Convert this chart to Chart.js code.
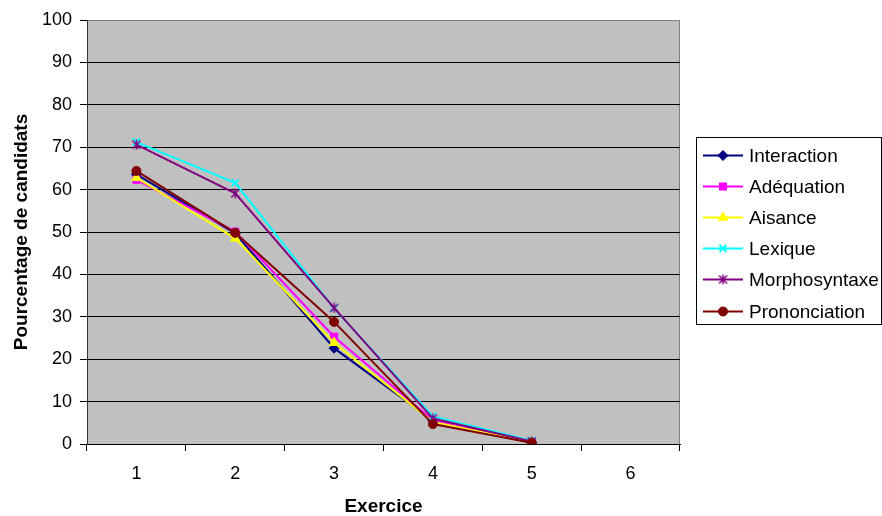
<!DOCTYPE html>
<html><head><meta charset="utf-8">
<script src="https://cdn.jsdelivr.net/npm/chart.js@4/dist/chart.umd.min.js"></script>
<style>html,body{margin:0;padding:0;background:#fff;overflow:hidden}</style>
</head><body>
<canvas id="c" width="882" height="516" style="width:882px;height:516px;display:block"></canvas>
<script>
const categories = ['1', '2', '3', '4', '5', '6'];
const seriesNames = ['Interaction', 'Adéquation', 'Aisance', 'Lexique', 'Morphosyntaxe', 'Prononciation'];
const interaction   = [63.6, 49.7, 22.6, 5.5, 0.3];
const adequation    = [62.3, 50.1, 25.3, 5.6, 0.5];
const aisance       = [62.8, 48.5, 23.9, 5.2, 0.4];
const lexique       = [71.2, 61.6, 32.0, 6.5, 0.8];
const morphosyntaxe = [70.6, 59.1, 32.1, 6.0, 0.6];
const prononciation = [64.4, 49.8, 28.8, 4.7, 0.3];
const yTicks = [0, 10, 20, 30, 40, 50, 60, 70, 80, 90, 100];
const xTitle = 'Exercice';
const yTitle = 'Pourcentage de candidats';

const FONT = '"Liberation Sans", Arial, Helvetica, sans-serif';

// Excel-style asterisk marker
function asterisk(color) {
  const c = document.createElement('canvas');
  c.width = 11; c.height = 11;
  const g = c.getContext('2d');
  g.strokeStyle = color; g.lineWidth = 1.5;
  g.beginPath();
  g.moveTo(1.5, 1.5); g.lineTo(9.5, 9.5);
  g.moveTo(9.5, 1.5); g.lineTo(1.5, 9.5);
  g.moveTo(5.5, 0.5); g.lineTo(5.5, 10.5);
  g.stroke();
  return c;
}

const values = [interaction, adequation, aisance, lexique, morphosyntaxe, prononciation];
const colors = ['#000080', '#FF00FF', '#FFFF00', '#00FFFF', '#800080', '#800000'];
const styles = ['rectRot', 'rect', 'triangle', 'crossRot', asterisk('#800080'), 'circle'];
const radii  = [5, 5, 5.5, 5, 5.5, 4.5];

const datasets = seriesNames.map((name, i) => ({
  label: name,
  data: values[i],
  borderColor: colors[i],
  backgroundColor: colors[i],
  pointStyle: styles[i],
  pointRadius: radii[i],
  pointBorderWidth: (i === 3) ? 2 : 1,
  borderWidth: 2,
  tension: 0,
  order: seriesNames.length - i
}));

const bgPlugin = {
  id: 'plotBg',
  beforeDraw(chart) {
    const {ctx, chartArea: a} = chart;
    ctx.save();
    ctx.fillStyle = '#C0C0C0';
    ctx.fillRect(a.left, a.top, a.right - a.left, a.bottom - a.top);
    ctx.strokeStyle = '#808080';
    ctx.lineWidth = 1;
    ctx.strokeRect(a.left + 0.5, a.top + 0.5, a.right - a.left - 1, a.bottom - a.top);
    ctx.restore();
  }
};

const legendPlugin = {
  id: 'excelLegend',
  afterDraw(chart) {
    const ctx = chart.ctx;
    const lx = 696, ly = 137, lw = 186, lh = 188;
    ctx.save();
    ctx.fillStyle = '#fff';
    ctx.fillRect(lx, ly, lw, lh);
    ctx.strokeStyle = '#000';
    ctx.lineWidth = 1;
    ctx.strokeRect(lx + 0.5, ly + 0.5, lw - 1, lh - 1);
    ctx.font = '19px ' + FONT;
    ctx.textBaseline = 'middle';
    ctx.textAlign = 'left';
    chart.data.datasets.forEach((ds, i) => {
      const y = Math.round(ly + 18 + i * 31.1) + 0.5;
      ctx.strokeStyle = ds.borderColor;
      ctx.lineWidth = 2;
      ctx.beginPath();
      ctx.moveTo(lx + 7, y); ctx.lineTo(lx + 47, y);
      ctx.stroke();
      if (Chart.helpers && Chart.helpers.drawPoint) {
        ctx.fillStyle = ds.backgroundColor;
        ctx.strokeStyle = ds.borderColor;
        ctx.lineWidth = ds.pointBorderWidth;
        Chart.helpers.drawPoint(ctx, {pointStyle: ds.pointStyle, radius: ds.pointRadius, rotation: 0, borderWidth: ds.pointBorderWidth}, lx + 27, y);
      }
      ctx.fillStyle = '#000';
      ctx.fillText(ds.label, lx + 53, y + 1);
    });
    ctx.restore();
  }
};

new Chart(document.getElementById('c'), {
  type: 'line',
  data: { labels: categories, datasets },
  options: {
    responsive: false,
    animation: false,
    devicePixelRatio: 1,
    layout: { padding: { top: 20, right: 202, bottom: 0, left: 0 } },
    plugins: { legend: { display: false }, tooltip: { enabled: false } },
    scales: {
      x: {
        type: 'category',
        offset: true,
        grid: { offset: true, drawOnChartArea: false, drawTicks: true, tickLength: 7, color: '#000' },
        border: { display: true, color: '#000' },
        ticks: { color: '#000', font: { family: FONT, size: 18 }, padding: 12, maxRotation: 0 },
        title: { display: true, text: xTitle, color: '#000', font: { family: FONT, size: 19, weight: 'bold', lineHeight: 1 }, padding: { top: 0, bottom: 0 } },
        afterFit(s) { s.height = 72; }
      },
      y: {
        min: 0, max: 100,
        afterBuildTicks(s) { s.ticks = yTicks.map(v => ({ value: v })); },
        grid: { color: (c) => (c.tick && c.tick.value === 100) ? '#808080' : '#000', tickColor: '#000', tickLength: 7, lineWidth: 1 },
        border: { display: true, color: '#333' },
        ticks: { color: '#000', font: { family: FONT, size: 18 }, padding: 8 },
        title: { display: true, text: yTitle, color: '#000', font: { family: FONT, size: 19, weight: 'bold' }, padding: { top: 10, bottom: 0 } },
        afterFit(s) { s.width = 87; }
      }
    }
  },
  plugins: [bgPlugin, legendPlugin]
});
</script>
</body></html>
